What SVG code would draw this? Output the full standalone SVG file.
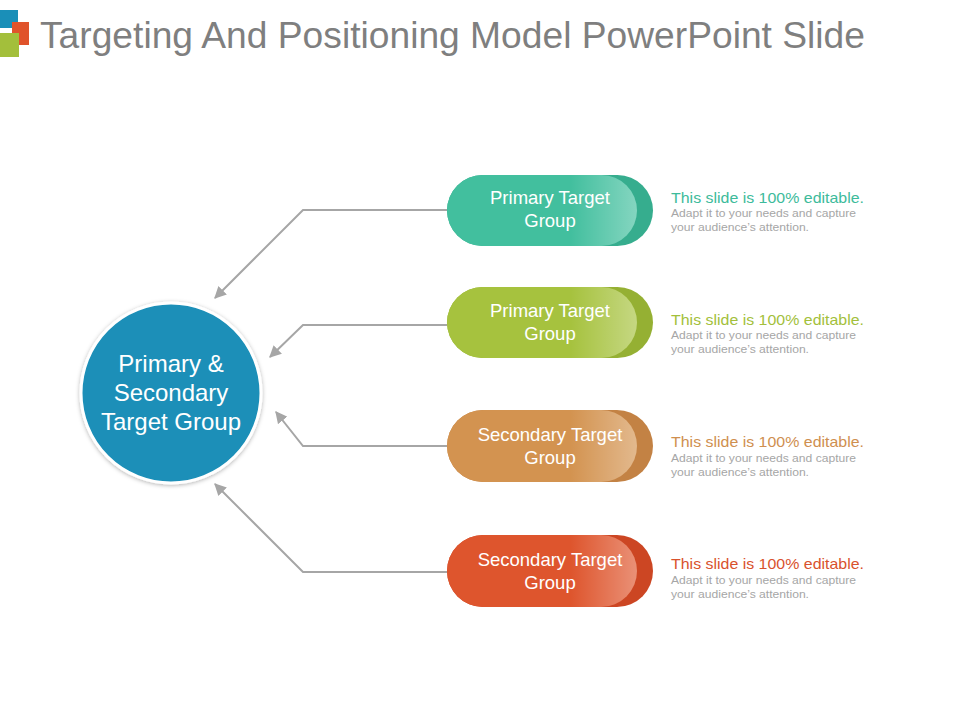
<svg xmlns="http://www.w3.org/2000/svg" width="960" height="720" viewBox="0 0 960 720">
<style>
text{font-family:"Liberation Sans",Arial,sans-serif}
.pt{fill:#fff;font-size:18.5px;text-anchor:middle}
.ct{fill:#fff;font-size:24px;text-anchor:middle}
.h{font-size:15px}
.b{font-size:11.5px;fill:#a6a6a6}
.c{fill:none;stroke:#a6a6a6;stroke-width:2}
</style>
<defs>
<marker id="ar" viewBox="0 0 10 10" refX="9" refY="5" markerWidth="6" markerHeight="6" orient="auto"><path d="M0,0L10,5L0,10z" fill="#a6a6a6"/></marker>
<linearGradient id="sh" x1="0" x2="1"><stop offset="0.65" stop-color="#fff" stop-opacity="0"/><stop offset="1" stop-color="#fff" stop-opacity="0.35"/></linearGradient>
<filter id="ds" x="-20%" y="-20%" width="140%" height="140%"><feDropShadow dx="0" dy="1" stdDeviation="2" flood-opacity="0.3"/></filter>
</defs>
<rect width="960" height="720" fill="#fff"/>
<rect x="0" y="10" width="18" height="18" fill="#1a8fb8"/>
<rect x="12" y="22" width="17" height="23" fill="#e0532b"/>
<rect x="0" y="33" width="19" height="24" fill="#a3bf3b"/>
<text x="40" y="48" font-size="37" fill="#7f7f7f" textLength="825" lengthAdjust="spacingAndGlyphs">Targeting And Positioning Model PowerPoint Slide</text>
<g id="connectors">
<path class="c" d="M447,210H303L215,298" marker-end="url(#ar)"/>
<path class="c" d="M447,325H303L270,357" marker-end="url(#ar)"/>
<path class="c" d="M447,446H303L276,412" marker-end="url(#ar)"/>
<path class="c" d="M447,572H303L215,484" marker-end="url(#ar)"/>
</g>
<g id="center">
<circle cx="171" cy="393" r="90" fill="#1a8fb8" stroke="#fff" stroke-width="3" filter="url(#ds)"/>
<text class="ct" x="171" y="372">Primary &amp;</text>
<text class="ct" x="171" y="401">Secondary</text>
<text class="ct" x="171" y="430">Target Group</text>
</g>
<g id="n1">
<rect x="447" y="175" width="206" height="71" rx="35.5" fill="#36ad8e"/>
<rect x="447" y="175" width="190" height="71" rx="35.5" fill="#42bf9e"/>
<rect x="447" y="175" width="190" height="71" rx="35.5" fill="url(#sh)"/>
<text class="pt" x="550" y="204">Primary Target</text><text class="pt" x="550" y="227">Group</text>
<text class="h" x="671" y="203" fill="#3dbb9b" textLength="193" lengthAdjust="spacingAndGlyphs">This slide is 100% editable.</text>
<text class="b" x="671" y="217" textLength="185" lengthAdjust="spacingAndGlyphs">Adapt it to your needs and capture</text>
<text class="b" x="671" y="231" textLength="138" lengthAdjust="spacingAndGlyphs">your audience’s attention.</text>
</g>
<g id="n2">
<rect x="447" y="287" width="206" height="71" rx="35.5" fill="#95b033"/>
<rect x="447" y="287" width="190" height="71" rx="35.5" fill="#a6c23e"/>
<rect x="447" y="287" width="190" height="71" rx="35.5" fill="url(#sh)"/>
<text class="pt" x="550" y="317">Primary Target</text><text class="pt" x="550" y="340">Group</text>
<text class="h" x="671" y="325" fill="#a3bf3b" textLength="193" lengthAdjust="spacingAndGlyphs">This slide is 100% editable.</text>
<text class="b" x="671" y="339" textLength="185" lengthAdjust="spacingAndGlyphs">Adapt it to your needs and capture</text>
<text class="b" x="671" y="353" textLength="138" lengthAdjust="spacingAndGlyphs">your audience’s attention.</text>
</g>
<g id="n3">
<rect x="447" y="410" width="206" height="72" rx="36" fill="#c38244"/>
<rect x="447" y="410" width="190" height="72" rx="36" fill="#d39350"/>
<rect x="447" y="410" width="190" height="72" rx="36" fill="url(#sh)"/>
<text class="pt" x="550" y="441">Secondary Target</text><text class="pt" x="550" y="464">Group</text>
<text class="h" x="671" y="447" fill="#cf8f4f" textLength="193" lengthAdjust="spacingAndGlyphs">This slide is 100% editable.</text>
<text class="b" x="671" y="462" textLength="185" lengthAdjust="spacingAndGlyphs">Adapt it to your needs and capture</text>
<text class="b" x="671" y="476" textLength="138" lengthAdjust="spacingAndGlyphs">your audience’s attention.</text>
</g>
<g id="n4">
<rect x="447" y="535" width="206" height="72" rx="36" fill="#cc4623"/>
<rect x="447" y="535" width="190" height="72" rx="36" fill="#de552d"/>
<rect x="447" y="535" width="190" height="72" rx="36" fill="url(#sh)"/>
<text class="pt" x="550" y="566">Secondary Target</text><text class="pt" x="550" y="589">Group</text>
<text class="h" x="671" y="569" fill="#d9522d" textLength="193" lengthAdjust="spacingAndGlyphs">This slide is 100% editable.</text>
<text class="b" x="671" y="584" textLength="185" lengthAdjust="spacingAndGlyphs">Adapt it to your needs and capture</text>
<text class="b" x="671" y="598" textLength="138" lengthAdjust="spacingAndGlyphs">your audience’s attention.</text>
</g>
</svg>
